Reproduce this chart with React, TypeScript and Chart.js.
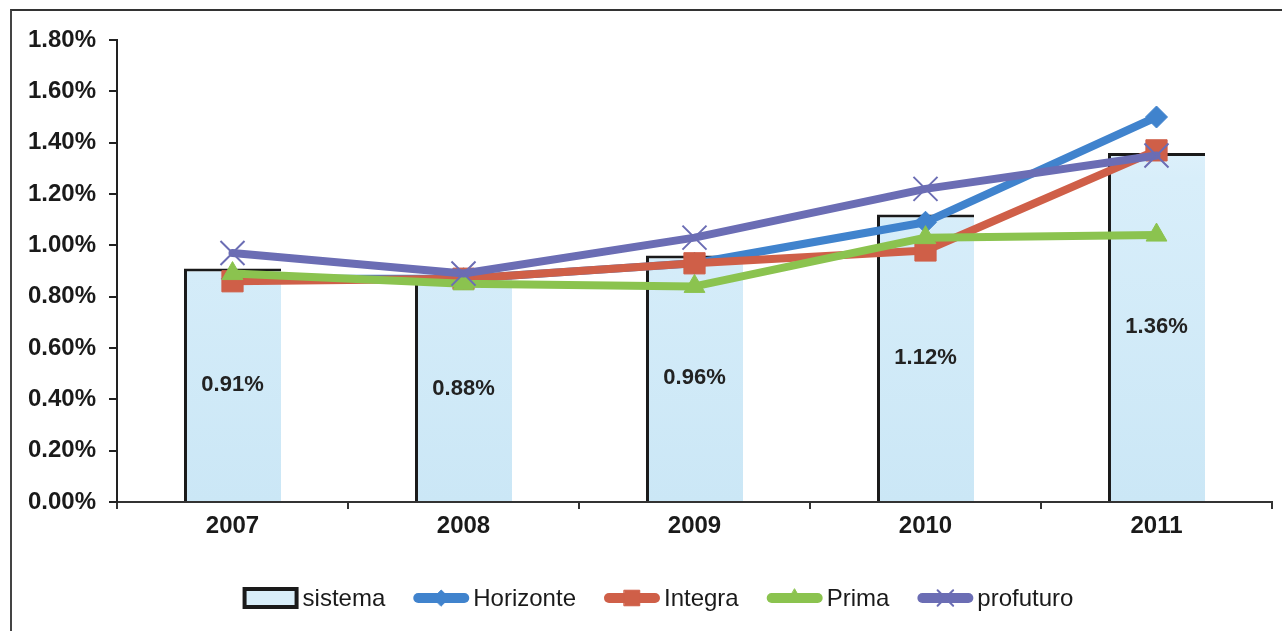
import React, { useEffect, useRef } from "react";
import { Chart, registerables } from "chart.js";
import { drawPoint } from "chart.js/helpers";

Chart.register(...registerables);

const categories = ["2007", "2008", "2009", "2010", "2011"];
const sistema = [0.91, 0.88, 0.96, 1.12, 1.36];
const horizonte = [0.87, 0.87, 0.93, 1.09, 1.5];
const integra = [0.86, 0.87, 0.93, 0.98, 1.37];
const prima = [0.89, 0.85, 0.84, 1.03, 1.04];
const profuturo = [0.97, 0.89, 1.03, 1.22, 1.35];
const yTicks = [0, 0.2, 0.4, 0.6, 0.8, 1.0, 1.2, 1.4, 1.6, 1.8];

const seriesNames = ["sistema", "Horizonte", "Integra", "Prima", "profuturo"];
const BLUE = "#4083cd";
const RED = "#cf5f48";
const GREEN = "#8bc34f";
const PURPLE = "#6b6db4";
const FONT = "'Liberation Sans', Arial, sans-serif";

const barLabelPlugin = {
  id: "barLabels",
  afterDatasetsDraw(chart: any) {
    const ctx = chart.ctx;
    const meta = chart.getDatasetMeta(0);
    ctx.save();
    ctx.font = `bold 22px ${FONT}`;
    ctx.fillStyle = "#222";
    ctx.textAlign = "center";
    ctx.textBaseline = "middle";
    meta.data.forEach((bar: any, i: number) => {
      const yMid = (bar.y + bar.base) / 2;
      ctx.fillText(sistema[i].toFixed(2) + "%", bar.x, yMid);
    });
    ctx.restore();
  },
};

const legendPlugin = {
  id: "customLegend",
  afterDraw(chart: any) {
    const ctx = chart.ctx;
    ctx.save();
    ctx.font = `24px ${FONT}`;
    const symW = 56;
    const gapSym = 4;
    const gapItem = 28;
    const widths = seriesNames.map((n) => ctx.measureText(n).width);
    const total =
      widths.reduce((a, b) => a + b, 0) + seriesNames.length * (symW + gapSym) + (seriesNames.length - 1) * gapItem;
    let x = 658 - total / 2;
    const y = 598;
    const colors = [null, BLUE, RED, GREEN, PURPLE];
    const styles = [null, "rectRot", "rect", "triangle", "crossRot"];
    const radii = [0, 8, 11, 9, 11];
    seriesNames.forEach((name, i) => {
      if (i === 0) {
        ctx.fillStyle = "#d9eef9";
        ctx.strokeStyle = "#1a1a1a";
        ctx.lineWidth = 4;
        ctx.beginPath();
        ctx.rect(x + 2, y - 9, symW - 4, 18);
        ctx.fill();
        ctx.stroke();
      } else {
        const col = colors[i] as string;
        ctx.strokeStyle = col;
        ctx.fillStyle = col;
        ctx.lineWidth = 10;
        ctx.lineCap = "round";
        ctx.beginPath();
        ctx.moveTo(x + 5, y);
        ctx.lineTo(x + symW - 5, y);
        ctx.stroke();
        ctx.lineWidth = i === 4 ? 2 : 1;
        drawPoint(
          ctx,
          { pointStyle: styles[i], radius: radii[i], borderWidth: i === 4 ? 2 : 1, rotation: 0 } as any,
          x + symW / 2,
          y
        );
      }
      ctx.fillStyle = "#1a1a1a";
      ctx.textAlign = "left";
      ctx.textBaseline = "middle";
      ctx.fillText(name, x + symW + gapSym, y + 1);
      x += symW + gapSym + widths[i] + gapItem;
    });
    ctx.restore();
  },
};

function lineDs(label: string, data: number[], color: string, style: string, order: number, radius: number) {
  return {
    type: "line" as const,
    label,
    data,
    borderColor: color,
    backgroundColor: color,
    borderWidth: 8,
    borderCapStyle: "round",
    borderJoinStyle: "round",
    tension: 0,
    pointStyle: style,
    pointRadius: radius,
    pointBackgroundColor: color,
    pointBorderColor: color,
    pointBorderWidth: style === "crossRot" ? 2 : 1,
    order,
  };
}

export default function App() {
  const canvasRef = useRef<HTMLCanvasElement | null>(null);

  useEffect(() => {
    if (!canvasRef.current) return;
    const chart = new Chart(canvasRef.current, {
      type: "bar",
      data: {
        labels: categories,
        datasets: [
          {
            type: "bar",
            label: "sistema",
            data: sistema,
            backgroundColor: (c: any) => {
              const area = c.chart.chartArea;
              if (!area) return "#d6ecf8";
              const g = c.chart.ctx.createLinearGradient(0, area.top, 0, area.bottom);
              g.addColorStop(0, "#eef8fd");
              g.addColorStop(0.3, "#d8eefa");
              g.addColorStop(1, "#cbe7f6");
              return g;
            },
            borderColor: "#1a1a1a",
            borderWidth: { left: 3, top: 3, right: 0, bottom: 0 },
            borderSkipped: "start",
            barPercentage: 0.42,
            categoryPercentage: 1,
            order: 10,
          } as any,
          lineDs("Horizonte", horizonte, BLUE, "rectRot", 5, 11) as any,
          lineDs("Integra", integra, RED, "rect", 4, 15) as any,
          lineDs("Prima", prima, GREEN, "triangle", 3, 12) as any,
          lineDs("profuturo", profuturo, PURPLE, "crossRot", 2, 17) as any,
        ],
      },
      options: {
        animation: false,
        responsive: false,
        layout: { autoPadding: false, padding: { top: 40, right: 10, left: 0, bottom: 0 } },
        plugins: { legend: { display: false }, tooltip: { enabled: false } },
        scales: {
          x: {
            type: "category",
            offset: true,
            grid: {
              display: true,
              drawOnChartArea: false,
              drawTicks: true,
              tickLength: 7,
              offset: true,
              color: "#333",
              lineWidth: 2,
            },
            border: { display: true, color: "#333", width: 2 },
            ticks: {
              color: "#1a1a1a",
              font: { family: FONT, size: 24, weight: "bold" },
              padding: 3,
            },
            afterFit: (s: any) => {
              s.height = 129;
            },
          },
          y: {
            min: 0,
            max: 1.8,
            afterBuildTicks: (s: any) => {
              s.ticks = yTicks.map((v) => ({ value: v }));
            },
            grid: {
              display: true,
              drawOnChartArea: false,
              drawTicks: true,
              tickLength: 8,
              color: "#222",
              lineWidth: 2,
            },
            border: { display: true, color: "#222", width: 2 },
            ticks: {
              color: "#1a1a1a",
              font: { family: FONT, size: 24, weight: "bold" },
              padding: 13,
              callback: (v: any) => Number(v).toFixed(2) + "%",
            },
            afterFit: (s: any) => {
              s.width = 117;
            },
          },
        },
      } as any,
      plugins: [barLabelPlugin, legendPlugin],
    });
    return () => chart.destroy();
  }, []);

  return (
    <div style={{ position: "fixed", left: 0, top: 0, width: 1282, height: 631, background: "#fff" }}>
      <canvas ref={canvasRef} width={1282} height={631} style={{ position: "absolute", left: 0, top: 0 }} />
      <div
        style={{
          position: "absolute",
          left: 10,
          top: 9,
          width: 1272,
          height: 622,
          borderTop: "2px solid #333",
          borderLeft: "2px solid #444",
          boxSizing: "border-box",
          pointerEvents: "none",
        }}
      />
    </div>
  );
}
